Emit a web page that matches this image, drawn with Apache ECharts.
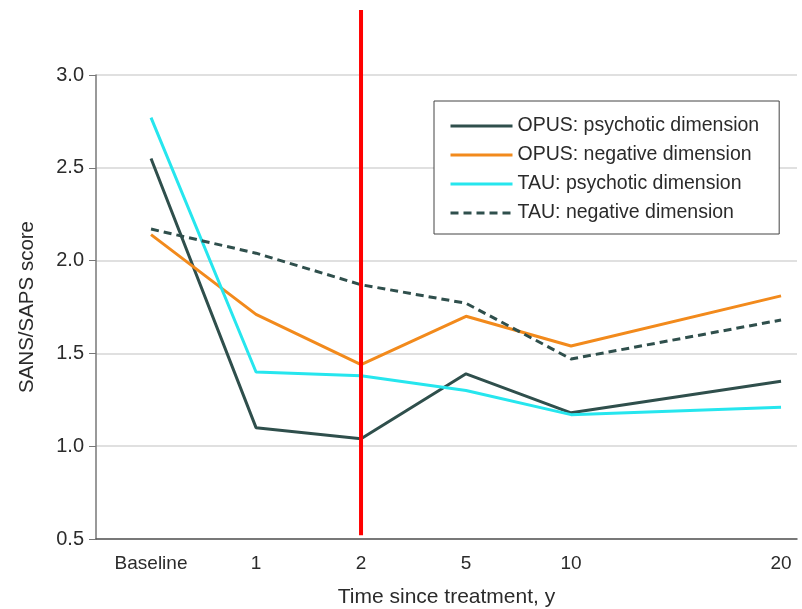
<!DOCTYPE html>
<html>
<head>
<meta charset="utf-8">
<script src="https://cdn.jsdelivr.net/npm/echarts@6/dist/echarts.min.js"></script>
<style>
  html, body { margin: 0; padding: 0; background: #fff; }
  #chart { width: 802px; height: 609px; }
</style>
</head>
<body>
<div id="chart"></div>
<script>
// time points, placed on a value axis so that 20 sits two steps after 10
var timeLabels = ['Baseline', '1', '2', '5', '10', '20']
var timePos = [0, 1, 2, 3, 4, 6]

var opusPsychotic = [2.55, 1.10, 1.04, 1.39, 1.18, 1.35]
var opusNegative = [2.14, 1.71, 1.44, 1.70, 1.54, 1.81]
var tauPsychotic = [2.77, 1.40, 1.38, 1.30, 1.17, 1.21]
var tauNegative = [2.17, 2.04, 1.87, 1.77, 1.47, 1.68]

// vertical marker at year 2 (runs above the plot top)
var markerX = 2
var markerY = [3.35, 0.52]

var yTicks = [0.5, 1.0, 1.5, 2.0, 2.5, 3.0]

function pairs (vals) {
  return vals.map(function (v, i) { return [timePos[i], v] })
}

var font = 'Liberation Sans, Arial, sans-serif'
var textColor = '#2b2b2b'

function lineSeries (name, vals, color, dashed) {
  return {
    name: name,
    type: 'line',
    data: pairs(vals),
    symbol: 'none',
    z: 3,
    lineStyle: { color: color, width: 3, type: dashed ? [8, 5] : 'solid' },
    itemStyle: { color: color }
  }
}

var chart = echarts.init(document.getElementById('chart'))
var option = {
  backgroundColor: '#fff',
  animation: false,
  grid: { left: 96, right: 5, top: 75, bottom: 70, outerBoundsMode: 'none' },
  legend: {
    orient: 'vertical',
    left: 434,
    top: 101,
    padding: [15, 20, 11, 15],
    itemWidth: 62,
    itemHeight: 18,
    itemGap: 9,
    itemStyle: { opacity: 0 },
    lineStyle: { width: 3 },
    backgroundColor: '#fff',
    borderColor: '#444',
    borderWidth: 1,
    borderRadius: 0,
    textStyle: { fontFamily: font, fontSize: 19.5, color: textColor },
    data: ['OPUS: psychotic dimension', 'OPUS: negative dimension', 'TAU: psychotic dimension', 'TAU: negative dimension']
  },
  xAxis: {
    type: 'value',
    min: -0.524,
    max: 6.152,
    interval: 1,
    name: 'Time since treatment, y',
    nameLocation: 'middle',
    nameGap: 48,
    nameTextStyle: { fontFamily: font, fontSize: 21, color: textColor },
    axisLine: { lineStyle: { color: '#555', width: 1.5 } },
    axisTick: { show: false },
    splitLine: { show: false },
    axisLabel: {
      fontFamily: font,
      fontSize: 19,
      color: textColor,
      margin: 15,
      customValues: timePos,
      formatter: function (v) {
        var i = timePos.indexOf(v)
        return i >= 0 ? timeLabels[i] : ''
      }
    }
  },
  yAxis: {
    type: 'value',
    min: 0.5,
    max: 3.0,
    interval: 0.5,
    name: 'SANS/SAPS score',
    nameLocation: 'middle',
    nameGap: 58,
    nameTextStyle: { fontFamily: font, fontSize: 20.5, color: textColor },
    axisLine: { show: true, onZero: false, lineStyle: { color: '#777', width: 1.5 } },
    axisTick: { show: true, length: 7, lineStyle: { color: '#777' } },
    splitLine: { lineStyle: { color: '#d6d6d6', width: 1.5 } },
    axisLabel: {
      fontFamily: font,
      fontSize: 20,
      color: textColor,
      margin: 12,
      customValues: yTicks,
      formatter: function (v) { return v.toFixed(1) }
    }
  },
  series: [
    lineSeries('OPUS: psychotic dimension', opusPsychotic, '#2f4f4c', false),
    lineSeries('OPUS: negative dimension', opusNegative, '#f28a1c', false),
    lineSeries('TAU: psychotic dimension', tauPsychotic, '#26e6ee', false),
    lineSeries('TAU: negative dimension', tauNegative, '#2f4f4c', true),
    {
      name: 'marker',
      type: 'line',
      symbol: 'none',
      clip: false,
      z: 5,
      data: markerY.map(function (y) { return [markerX, y] }),
      lineStyle: { color: '#ff0000', width: 4 }
    }
  ]
}
chart.setOption(option)
</script>
</body>
</html>
